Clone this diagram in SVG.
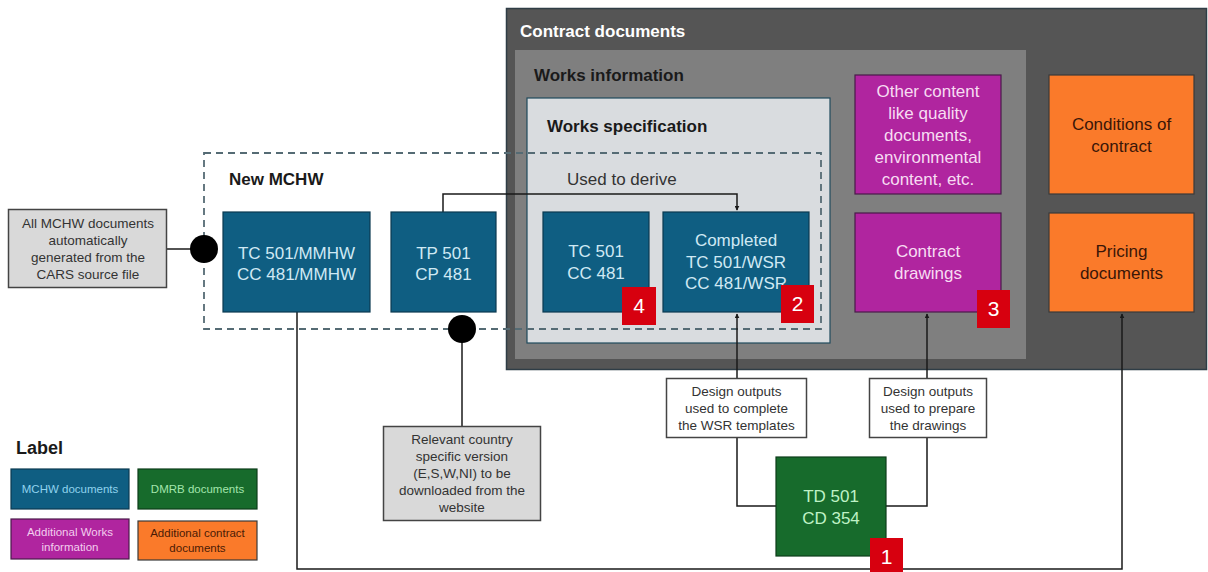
<svg xmlns="http://www.w3.org/2000/svg" width="1208" height="572" viewBox="0 0 1208 572">
<defs>
<style>
text{font-family:"Liberation Sans",Arial,sans-serif}
.t{font-size:17px;text-anchor:middle}
.h{font-size:17px;font-weight:bold}
.s{font-size:13.5px;text-anchor:middle;fill:#333}
.lg{font-size:11.5px;text-anchor:middle}
.blue{fill:#0f5e82;stroke:#0b3a50;stroke-width:1.2}
.mag{fill:#b0259f;stroke:#4a1a4a;stroke-width:1.2}
.org{fill:#fa7a2a;stroke:#3a3a3a;stroke-width:1.2}
.grn{fill:#176b2c;stroke:#0d3d19;stroke-width:1.2}
.gbox{fill:#d9d9d9;stroke:#444;stroke-width:1.5}
.wbox{fill:#fff;stroke:#444;stroke-width:1.5}
.badge{fill:#d7000f}
.bt{font-size:21px;fill:#fff;text-anchor:middle}
.bluet{fill:#cfe9f4}
.magt{fill:#f7dcf2}
.orgt{fill:#3a1608}
.grnt{fill:#bff2c6}
.c{fill:none;stroke:#1a1a1a;stroke-width:1.5}
</style>
<marker id="ah" viewBox="0 0 8 8" refX="7" refY="4" markerWidth="5" markerHeight="5" orient="auto" markerUnits="userSpaceOnUse">
<path d="M0,0 L8,4 L0,8 z" fill="#1a1a1a"/>
</marker>
</defs>
<rect width="1208" height="572" fill="#ffffff"/>

<g id="contract-documents">
<rect x="506.5" y="8.5" width="700" height="361" fill="#555555" stroke="#2f3d46" stroke-width="1.5"/>
<text x="520" y="37" class="h" fill="#ffffff">Contract documents</text>
</g>
<g id="works-information">
<rect x="515" y="50" width="511" height="309" fill="#7f7f7f"/>
<text x="534" y="81" class="h" fill="#1a1a1a">Works information</text>
</g>
<g id="works-specification">
<rect x="527" y="98" width="303" height="245" fill="#d9dcdf" stroke="#1f4a5c" stroke-width="1.2"/>
<text x="547" y="132" class="h" fill="#1a1a1a">Works specification</text>
</g>
<g id="new-mchw">
<rect x="204" y="153" width="617" height="176" fill="none" stroke="#556b74" stroke-width="1.8" stroke-dasharray="7,5"/>
<text x="229" y="185" class="h" fill="#1a1a1a">New MCHW</text>
<text x="567" y="185" font-size="17" fill="#333">Used to derive</text>
</g>

<g id="connectors">
<polyline class="c" points="443,212 443,194 737,194 737,210" marker-end="url(#ah)"/>
<line class="c" x1="167" y1="249" x2="204" y2="249"/>
<line class="c" x1="462" y1="329" x2="462" y2="426"/>
<polyline class="c" points="297,312 297,569 1122,569 1122,314" marker-end="url(#ah)"/>
<line class="c" x1="737" y1="378" x2="737" y2="314" marker-end="url(#ah)"/>
<polyline class="c" points="737,438 737,506 776,506"/>
<line class="c" x1="927" y1="378" x2="927" y2="314" marker-end="url(#ah)"/>
<polyline class="c" points="927,438 927,506 886,506"/>
<circle cx="204" cy="249" r="14" fill="#000"/>
<circle cx="462" cy="329" r="14" fill="#000"/>
</g>

<g id="tc501-mmhw">
<rect class="blue" x="223" y="212" width="147" height="100"/>
<text class="t bluet" x="296.5" y="259">TC 501/MMHW</text>
<text class="t bluet" x="296.5" y="280">CC 481/MMHW</text>
</g>
<g id="tp501">
<rect class="blue" x="391" y="212" width="105" height="100"/>
<text class="t bluet" x="443.5" y="259">TP 501</text>
<text class="t bluet" x="443.5" y="280">CP 481</text>
</g>
<g id="tc501">
<rect class="blue" x="543" y="212" width="106" height="100"/>
<text class="t bluet" x="596" y="257">TC 501</text>
<text class="t bluet" x="596" y="279">CC 481</text>
</g>
<g id="completed">
<rect class="blue" x="663" y="212" width="146" height="100"/>
<text class="t bluet" x="736" y="246">Completed</text>
<text class="t bluet" x="736" y="268">TC 501/WSR</text>
<text class="t bluet" x="736" y="289">CC 481/WSR</text>
</g>
<g id="badge-4">
<rect class="badge" x="622" y="287" width="34" height="38"/>
<text class="bt" x="639" y="313">4</text>
</g>
<g id="badge-2">
<rect class="badge" x="781" y="285" width="33" height="38"/>
<text class="bt" x="797.5" y="311">2</text>
</g>
<g id="other-content">
<rect class="mag" x="855" y="75" width="146" height="119"/>
<text class="t magt" x="928" y="97">Other content</text>
<text class="t magt" x="928" y="119">like quality</text>
<text class="t magt" x="928" y="141">documents,</text>
<text class="t magt" x="928" y="163">environmental</text>
<text class="t magt" x="928" y="185">content, etc.</text>
</g>
<g id="contract-drawings">
<rect class="mag" x="855" y="213" width="146" height="99"/>
<text class="t magt" x="928" y="257">Contract</text>
<text class="t magt" x="928" y="279">drawings</text>
</g>
<g id="badge-3">
<rect class="badge" x="977" y="290" width="33" height="38"/>
<text class="bt" x="993.5" y="316">3</text>
</g>
<g id="conditions">
<rect class="org" x="1049" y="75" width="145" height="119"/>
<text class="t orgt" x="1121.5" y="130">Conditions of</text>
<text class="t orgt" x="1121.5" y="152">contract</text>
</g>
<g id="pricing">
<rect class="org" x="1049" y="213" width="145" height="99"/>
<text class="t orgt" x="1121.5" y="257">Pricing</text>
<text class="t orgt" x="1121.5" y="279">documents</text>
</g>

<g id="cars-note">
<rect class="gbox" x="8.5" y="209.5" width="158" height="78"/>
<text class="s" x="88" y="228">All MCHW documents</text>
<text class="s" x="88" y="245">automatically</text>
<text class="s" x="88" y="262">generated from the</text>
<text class="s" x="88" y="279">CARS source file</text>
</g>
<g id="country-note">
<rect class="gbox" x="383.5" y="426.5" width="157" height="94"/>
<text class="s" x="462" y="444">Relevant country</text>
<text class="s" x="462" y="461">specific version</text>
<text class="s" x="462" y="478">(E,S,W,NI) to be</text>
<text class="s" x="462" y="495">downloaded from the</text>
<text class="s" x="462" y="512">website</text>
</g>
<g id="design-wsr">
<rect class="wbox" x="666.5" y="378.5" width="140" height="59"/>
<text class="s" x="736.5" y="396">Design outputs</text>
<text class="s" x="736.5" y="413">used to complete</text>
<text class="s" x="736.5" y="430">the WSR templates</text>
</g>
<g id="design-drawings">
<rect class="wbox" x="869.5" y="378.5" width="117" height="59"/>
<text class="s" x="928" y="396">Design outputs</text>
<text class="s" x="928" y="413">used to prepare</text>
<text class="s" x="928" y="430">the drawings</text>
</g>
<g id="td501">
<rect class="grn" x="776" y="457" width="110" height="99"/>
<text class="t grnt" x="831" y="502">TD 501</text>
<text class="t grnt" x="831" y="524">CD 354</text>
</g>
<g id="badge-1">
<rect class="badge" x="870" y="538" width="33" height="36"/>
<text class="bt" x="886.5" y="564">1</text>
</g>

<g id="legend">
<text x="16" y="454" font-size="18" font-weight="bold" fill="#1a1a1a">Label</text>
<rect class="blue" x="11" y="469" width="118" height="40"/>
<text class="lg" x="70" y="493" fill="#8fd3ee">MCHW documents</text>
<rect class="grn" x="138" y="469" width="119" height="40"/>
<text class="lg" x="197.5" y="493" fill="#a3e6ad">DMRB documents</text>
<rect class="mag" x="11" y="519" width="118" height="40"/>
<text class="lg" x="70" y="536" fill="#f3cdee">Additional Works</text>
<text class="lg" x="70" y="551" fill="#f3cdee">information</text>
<rect class="org" x="138" y="521" width="119" height="39"/>
<text class="lg" x="197.5" y="537" fill="#4a1a06">Additional contract</text>
<text class="lg" x="197.5" y="552" fill="#4a1a06">documents</text>
</g>
</svg>
